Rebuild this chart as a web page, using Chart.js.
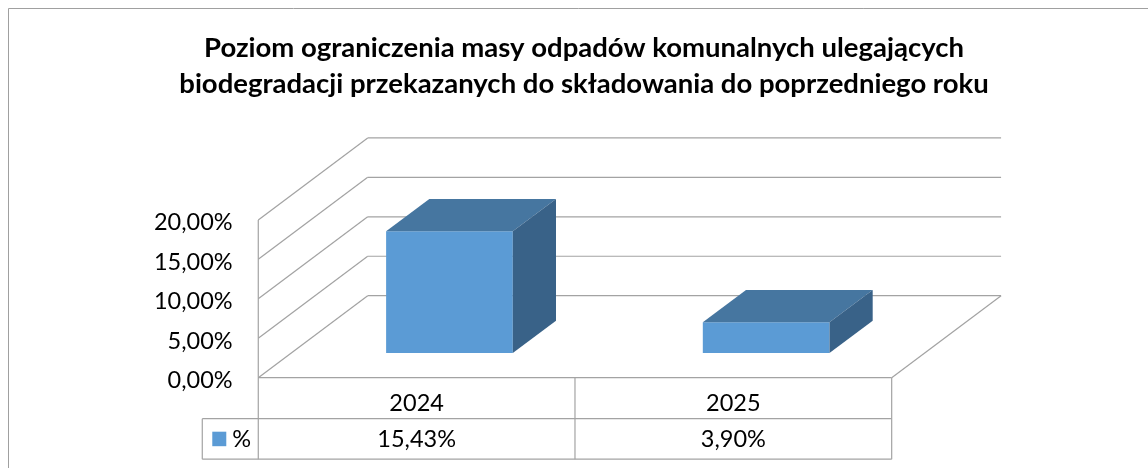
<!DOCTYPE html>
<html><head><meta charset="utf-8">
<script src="https://cdn.jsdelivr.net/npm/chart.js@4/dist/chart.umd.min.js"></script>
<style>html,body{margin:0;padding:0;background:#fff;}canvas{display:block;}</style>
</head><body>
<canvas id="c" width="1148" height="468"></canvas>
<script>
// ---- data ----
const categories = ['2024', '2025'];
const seriesName = '%';
const values = [15.43, 3.90];
const yTicks = [0, 5, 10, 15, 20];
const yTickLabels = ['0,00%', '5,00%', '10,00%', '15,00%', '20,00%'];
const titleLines = ['Poziom ograniczenia masy odpadów komunalnych ulegających',
                    'biodegradacji przekazanych do składowania do poprzedniego roku'];

// ---- style ----
const FONT = 'Lato, "Open Sans", sans-serif';
const GRID = '#a3a3a3';
const FRONT = '#5b9bd5', TOP = '#4676a0', SIDE = '#396288';
const DEPTH = { dx: 109.4, dy: -82 };   // full floor depth vector
const F0 = 0.3, F1 = 0.695;              // bar front / back depth fractions
const fmt = v => v.toFixed(2).replace('.', ',') + '%';

const box3d = {
  id: 'box3d',
  beforeDraw(chart) {
    const { ctx } = chart;
    ctx.save();
    ctx.fillStyle = '#fff';
    ctx.fillRect(0, 0, chart.width, chart.height);
    // outer chart border
    ctx.strokeStyle = '#a0a0a0'; ctx.lineWidth = 1;
    ctx.beginPath();
    ctx.moveTo(8.5, chart.height + 2); ctx.lineTo(8.5, 8.5); ctx.lineTo(chart.width + 2, 8.5);
    ctx.stroke();
    // title
    ctx.fillStyle = '#000';
    ctx.font = 'bold 27.5px ' + FONT;
    ctx.textAlign = 'center'; ctx.textBaseline = 'alphabetic';
    ctx.fillText(titleLines[0], 584, 57);
    ctx.fillText(titleLines[1], 584, 93);
    ctx.restore();
  },
  beforeDatasetsDraw(chart) {
    const { ctx, chartArea: a, scales: { y } } = chart;
    const P = (px, v, d) => [px + (d - F0) * DEPTH.dx, y.getPixelForValue(v) + (d - F0) * DEPTH.dy];
    const line = (p, q) => { ctx.beginPath(); ctx.moveTo(p[0], p[1]); ctx.lineTo(q[0], q[1]); ctx.stroke(); };
    ctx.save();
    ctx.strokeStyle = GRID; ctx.lineWidth = 1.2;
    yTicks.forEach(t => {
      const f = P(a.left, t, 0), b = P(a.left, t, 1), br = P(a.right, t, 1);
      line(f, b); line(b, br);
    });
    const y0 = yTicks[0], yN = yTicks[yTicks.length - 1];
    line(P(a.left, y0, 0), P(a.left, yN, 0));
    line(P(a.right, y0, 0), P(a.right, y0, 1));
    // y tick labels
    ctx.fillStyle = '#000';
    ctx.font = '23.5px ' + FONT;
    ctx.textAlign = 'right'; ctx.textBaseline = 'middle';
    yTicks.forEach((t, i) => {
      const f = P(a.left, t, 0);
      ctx.fillText(yTickLabels[i], f[0] - 25.6, f[1] + 3);
    });
    ctx.restore();
  },
  afterDatasetsDraw(chart) {
    const { ctx } = chart;
    const meta = chart.getDatasetMeta(0);
    const ddx = (F1 - F0) * DEPTH.dx, ddy = (F1 - F0) * DEPTH.dy;
    ctx.save();
    meta.data.forEach(bar => {
      const l = bar.x - bar.width / 2, r = bar.x + bar.width / 2;
      const t = bar.y, b = bar.base;
      ctx.fillStyle = TOP;
      ctx.beginPath();
      ctx.moveTo(l, t); ctx.lineTo(l + ddx, t + ddy); ctx.lineTo(r + ddx, t + ddy); ctx.lineTo(r, t);
      ctx.closePath(); ctx.fill();
      ctx.fillStyle = SIDE;
      ctx.beginPath();
      ctx.moveTo(r, t); ctx.lineTo(r + ddx, t + ddy); ctx.lineTo(r + ddx, b + ddy); ctx.lineTo(r, b);
      ctx.closePath(); ctx.fill();
    });
    ctx.restore();
  },
  afterDraw(chart) {
    const { ctx, chartArea: a, scales: { x, y } } = chart;
    const X0 = a.left - F0 * DEPTH.dx, X1 = a.right - F0 * DEPTH.dx;
    const Y0 = y.getPixelForValue(yTicks[0]) - F0 * DEPTH.dy;
    const rowH = 41, legW = 56;
    const Y1 = Y0 + rowH, Y2 = Y0 + 2 * rowH - 0.5;
    const n = categories.length, cw = (X1 - X0) / n;
    ctx.save();
    ctx.strokeStyle = GRID; ctx.lineWidth = 1.2;
    const line = (x1, y1, x2, y2) => { ctx.beginPath(); ctx.moveTo(x1, y1); ctx.lineTo(x2, y2); ctx.stroke(); };
    line(X0, Y0, X1, Y0);
    line(X0 - legW, Y1, X1, Y1);
    line(X0 - legW, Y2, X1, Y2);
    line(X0 - legW, Y1, X0 - legW, Y2);
    for (let i = 0; i <= n; i++) line(X0 + i * cw, Y0, X0 + i * cw, Y2);
    ctx.fillStyle = '#000';
    ctx.font = '23.5px ' + FONT;
    ctx.textAlign = 'center'; ctx.textBaseline = 'middle';
    categories.forEach((c, i) => {
      const cx = x.getPixelForValue(i) - F0 * DEPTH.dx;
      ctx.fillText(c, cx, Y0 + 26);
      ctx.fillText(fmt(values[i]), cx, Y1 + 20.5);
    });
    ctx.fillStyle = FRONT;
    ctx.fillRect(X0 - legW + 10, Y1 + 13, 14, 14.5);
    ctx.fillStyle = '#000';
    ctx.fillText(seriesName, X0 - 16.5, Y1 + 20.5);
    ctx.restore();
  }
};

new Chart(document.getElementById('c'), {
  type: 'bar',
  data: {
    labels: categories,
    datasets: [{ label: seriesName, data: values, backgroundColor: FRONT, borderWidth: 0,
                 barPercentage: 0.4, categoryPercentage: 1 }]
  },
  options: {
    responsive: false, animation: false, devicePixelRatio: 1,
    layout: { padding: { left: 291.1, right: 223.5, top: 195.3, bottom: 114.9 } },
    scales: {
      x: { display: false, offset: true },
      y: { display: false, min: 0, max: 20 }
    },
    plugins: { legend: { display: false }, title: { display: false }, tooltip: { enabled: false } }
  },
  plugins: [box3d]
});
</script>
</body></html>
